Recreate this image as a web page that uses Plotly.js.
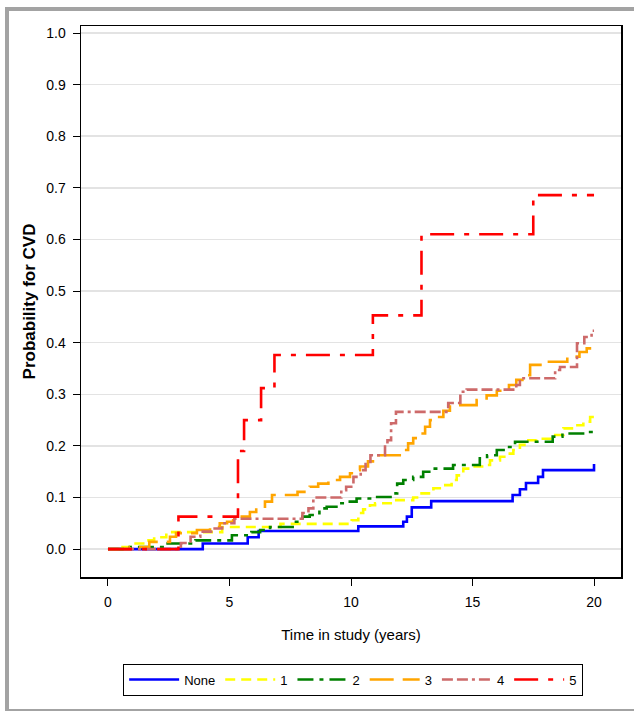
<!DOCTYPE html>
<html>
<head>
<meta charset="utf-8">
<script src="https://cdn.plot.ly/plotly-3.0.1.min.js"></script>
<style>
  html, body { margin:0; padding:0; background:#fff; }
  #wrap { position:relative; width:634px; height:711px; overflow:hidden; }
  #chart { position:absolute; left:0; top:0; width:634px; height:711px; }
  #frame { position:absolute; left:5px; top:7px; width:640px; height:698px;
           border:4px solid #a3a3a3; border-right:none; pointer-events:none; }
</style>
</head>
<body>
<div id="wrap"><div id="chart"></div><div id="frame"></div></div>
<script>
// Group names
const groupNames = ["None", "1", "2", "3", "4", "5"];

// Time (years) and cumulative probability of CVD
const tNone = [0,3.9,5.75,6.2,10.3,12.15,12.3,12.5,13.3,16.65,16.95,17.2,17.7,17.9,20];
const pNone = [0,0.011,0.023,0.035,0.044,0.053,0.063,0.081,0.093,0.105,0.116,0.128,0.14,0.153,0.165];

const t1 = [0,0.6,1.0,1.45,1.9,2.4,4.7,7.1,10.03,10.3,10.5,10.78,10.99,11.74,12.56,12.84,13.39,13.73,14.14,14.35,14.62,14.97,15.51,15.72,16.13,16.41,16.68,16.95,17.23,17.64,18.33,18.74,19.15,19.56,19.84,20];
const p1 = [0,0.004,0.011,0.017,0.023,0.033,0.043,0.049,0.056,0.07,0.077,0.085,0.089,0.095,0.1,0.108,0.118,0.124,0.134,0.143,0.156,0.16,0.163,0.172,0.179,0.185,0.192,0.202,0.211,0.214,0.221,0.234,0.24,0.247,0.256,0.26];

const t2 = [0,0.9,2.4,3.6,5.1,5.9,6.26,6.67,7.6,8.0,8.3,8.7,9.0,9.4,9.8,10.23,10.9,11.7,11.9,12.15,12.56,12.97,13.39,14.2,15.3,15.6,16.0,16.4,16.75,18.3,18.7,19.55,20];
const p2 = [0,0.004,0.011,0.017,0.027,0.033,0.037,0.043,0.053,0.063,0.066,0.079,0.082,0.089,0.092,0.098,0.101,0.108,0.127,0.134,0.14,0.15,0.156,0.163,0.176,0.182,0.192,0.198,0.208,0.218,0.224,0.227,0.232];

const t3 = [0,0.9,1.7,2.55,2.8,3.66,4.2,4.6,4.9,5.15,5.43,5.84,6.1,6.46,6.75,7.8,8.3,8.65,9.07,9.55,9.96,10.23,10.37,10.7,11.06,12.15,12.35,12.56,12.84,13.05,13.25,13.4,13.8,14.07,15.17,15.58,16.0,16.5,16.8,17.2,17.37,18.05,18.9,19.4,19.7,20];
const p3 = [0,0.004,0.014,0.024,0.031,0.037,0.043,0.05,0.053,0.056,0.063,0.072,0.082,0.092,0.105,0.111,0.121,0.127,0.134,0.14,0.147,0.153,0.16,0.17,0.182,0.192,0.205,0.215,0.224,0.237,0.25,0.256,0.268,0.279,0.289,0.298,0.307,0.318,0.328,0.337,0.357,0.363,0.373,0.382,0.389,0.393];

const t4 = [0,3.0,3.4,3.8,4.3,4.7,5.2,8.0,8.25,8.45,9.6,9.8,10.1,10.4,10.6,10.8,11.4,11.5,11.65,11.85,14.0,14.5,14.76,16.8,16.95,18.4,18.6,19.3,19.6,19.9,20];
const p4 = [0,0.012,0.024,0.034,0.04,0.05,0.059,0.07,0.079,0.1,0.114,0.121,0.14,0.153,0.169,0.182,0.202,0.211,0.244,0.266,0.283,0.305,0.309,0.318,0.331,0.347,0.353,0.399,0.411,0.423,0.423];

const t5 = [0,2.9,5.35,5.6,6.3,6.85,10.9,12.9,17.5,20];
const p5 = [0,0.063,0.19,0.25,0.312,0.376,0.453,0.61,0.686,0.686];

// Axis ticks
const yTickVals = [0,0.1,0.2,0.3,0.4,0.5,0.6,0.7,0.8,0.9,1.0];
const yTickText = ["0.0","0.1","0.2","0.3","0.4","0.5","0.6","0.7","0.8","0.9","1.0"];
const xTickVals = [0,5,10,15,20];

const FONT = "Liberation Sans, Arial, sans-serif";

const series = [
  {x:tNone, y:pNone, color:"#0000FF", dash:"solid"},
  {x:t1, y:p1, color:"#FFFF00", dash:"10px,6px"},
  {x:t2, y:p2, color:"#008000", dash:"16px,6px,4px,6px"},
  {x:t3, y:p3, color:"#FFA500", dash:"24px,9px"},
  {x:t4, y:p4, color:"#CD6A6A", dash:"11px,4px,11px,4px,3px,4px"},
  {x:t5, y:p5, color:"#FF0000", dash:"24px,10px,5px,10px"}
];

const traces = series.map((s, i) => ({
  type: "scatter",
  mode: "lines",
  name: groupNames[i],
  x: s.x,
  y: s.y,
  line: {shape: "hv", color: s.color, width: 2.6, dash: s.dash},
  hoverinfo: "skip"
}));

const layout = {
  width: 634,
  height: 711,
  margin: {l: 81, r: 13, t: 26, b: 134},
  paper_bgcolor: "#ffffff",
  plot_bgcolor: "#ffffff",
  font: {family: FONT, size: 14, color: "#000"},
  showlegend: true,
  legend: {
    orientation: "h",
    xref: "container", yref: "container",
    x: 0.557, xanchor: "center",
    y: 0.0443, yanchor: "middle",
    bordercolor: "#000", borderwidth: 1,
    bgcolor: "#fff",
    itemwidth: 50,
    font: {family: FONT, size: 13, color: "#000"},
    traceorder: "normal"
  },
  xaxis: {
    range: [-1.11, 21.11],
    tickvals: xTickVals,
    ticks: "outside", ticklen: 7, tickwidth: 1, tickcolor: "#000",
    ticklabelstandoff: 5,
    automargin: false,
    showgrid: false, zeroline: false,
    showline: true, linecolor: "#000", linewidth: 1.5, mirror: true,
    tickfont: {family: FONT, size: 14, color: "#000"},
    title: {text: "Time in study (years)", font: {family: FONT, size: 15, color: "#000"}, standoff: 20}
  },
  yaxis: {
    range: [-0.054, 1.0136],
    tickvals: yTickVals,
    ticktext: yTickText,
    ticks: "outside", ticklen: 7, tickwidth: 1, tickcolor: "#000",
    ticklabelstandoff: 4,
    automargin: false,
    showgrid: true, gridcolor: "#e3e3e3", gridwidth: 1.5,
    zeroline: false,
    showline: true, linecolor: "#000", linewidth: 1.5, mirror: true,
    tickfont: {family: FONT, size: 14, color: "#000"},
    title: {text: "<b>Probability for CVD</b>", font: {family: FONT, size: 17, color: "#000"}, standoff: 6}
  }
};

Plotly.newPlot("chart", traces, layout, {staticPlot: true, displayModeBar: false});
</script>
</body>
</html>
